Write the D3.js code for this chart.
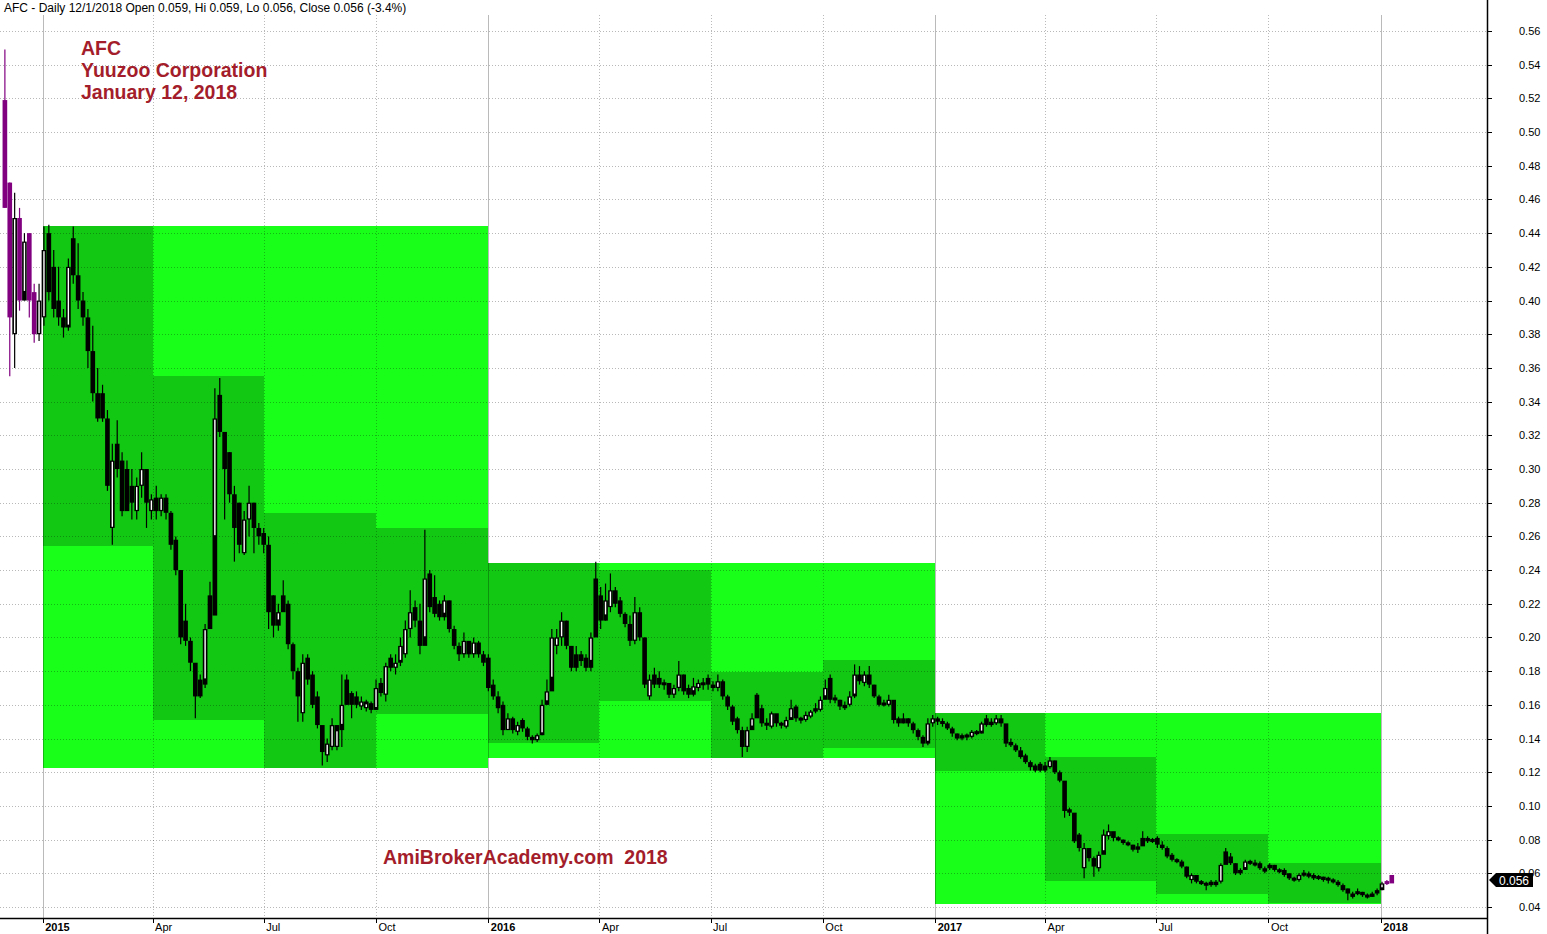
<!DOCTYPE html>
<html><head><meta charset="utf-8">
<script src="https://cdn.jsdelivr.net/npm/d3@7"></script>
<style>html,body{margin:0;padding:0;background:#fff;overflow:hidden}</style>
</head><body>
<svg id="chart" width="1547" height="934"></svg>
<script>
// ---------------- DATA ----------------
const ticker = "AFC";
const company = "Yuuzoo Corporation";
const chartDate = "January 12, 2018";
const footer = "AmiBrokerAcademy.com  2018";
const headerText = "AFC - Daily 12/1/2018 Open 0.059, Hi 0.059, Lo 0.056, Close 0.056 (-3.4%)";

const startDate = "2014-12-01";   // first sample
const stepDays = 4;               // calendar days between samples

const opens = [
.519,.47,.38,.449,.405,.44,.405,.38,
.39,.44,.42,.40,.39,.385,.437,.415,.40,.39,.37,.345,
.345,.33,.265,.315,.305,.30,.29,.275,.29,.30,
.275,.283,.275,.28,.27,.258,.238,.21,.198,.18,
.175,.175,.225,.26,.344,.318,.31,.285,.28,.25,
.27,.28,.26,.262,.255,.225,.21,.225,.22,.195,
.18,.155,.188,.178,.165,.14,.13,.135,.135,.148,
.175,.167,.165,.159,.158,.161,.158,.173,.166,.188,
.182,.186,.19,.205,.218,.21,.20,.238,.224,.22,
.214,.22,.204,.195,.19,.195,.19,.196,.19,.188,
.172,.164,.16,.145,.151,.144,.151,.146,.141,.139,
.143,.162,.176,.195,.2,.205,.19,.188,.19,.188,
.186,.235,.225,.213,.218,.228,.222,.214,.207,.198,
.215,.198,.165,.178,.176,.172,.171,.166,.17,.176,
.17,.168,.17,.172,.176,.172,.17,.172,.165,.159,
.152,.145,.135,.147,.166,.158,.149,.147,.151,.149,
.147,.152,.159,.152,.151,.153,.158,.157,.165,.176,
.164,.162,.158,.16,.166,.178,.173,.178,.17,.164,
.161,.16,.158,.152,.151,.151,.149,.145,.141,.138,
.149,.151,.15,.149,.146,.142,.14,.142,.141,.144,
.144,.152,.148,.149,.152,.143,.138,.136,.133,.13,
.126,.124,.125,.122,.123,.126,.12,.112,.098,.094,
.083,.063,.072,.069,.063,.073,.082,.082,.081,.079,
.078,.076,.074,.079,.081,.08,.081,.077,.075,.071,
.068,.067,.063,.056,.057,.055,.054,.055,.053,.055,
.073,.07,.065,.06,.063,.067,.065,.066,.061,.063,
.064,.061,.062,.06,.057,.056,.059,.06,.059,.058,
.058,.057,.056,.055,.053,.051,.046,.048,.048,.047,
.046,.048,.051,.055,.059];

const highs = [
.549,.47,.464,.455,.44,.44,.41,.41,
.444,.445,.43,.42,.395,.425,.444,.434,.405,.395,.385,.36,
.35,.335,.315,.329,.31,.305,.30,.295,.31,.30,
.285,.29,.285,.285,.275,.26,.24,.22,.20,.18,
.178,.208,.233,.348,.354,.32,.31,.29,.28,.275,
.29,.28,.268,.265,.26,.225,.22,.234,.222,.197,
.182,.19,.19,.18,.168,.142,.14,.152,.148,.178,
.178,.168,.168,.165,.163,.162,.175,.176,.185,.19,
.19,.20,.21,.228,.222,.22,.264,.24,.237,.222,
.225,.222,.207,.197,.203,.197,.20,.198,.192,.19,
.175,.168,.162,.155,.153,.15,.152,.147,.142,.143,
.163,.175,.205,.205,.215,.21,.192,.195,.192,.19,
.203,.245,.23,.232,.238,.23,.224,.215,.213,.224,
.218,.20,.178,.182,.18,.175,.172,.172,.186,.178,
.172,.176,.175,.176,.178,.174,.178,.175,.166,.16,
.153,.147,.147,.155,.167,.16,.152,.156,.152,.15,
.153,.163,.16,.153,.156,.157,.161,.165,.175,.178,
.166,.163,.162,.168,.184,.183,.18,.183,.172,.166,
.163,.166,.16,.153,.155,.152,.15,.146,.142,.152,
.154,.153,.152,.15,.147,.143,.143,.143,.145,.145,
.15,.154,.152,.154,.154,.145,.14,.137,.135,.131,
.127,.125,.126,.126,.129,.127,.121,.113,.099,.095,
.084,.078,.074,.07,.073,.086,.089,.084,.082,.08,
.079,.077,.078,.085,.082,.081,.082,.079,.076,.072,
.069,.068,.064,.06,.058,.056,.055,.056,.056,.066,
.075,.072,.066,.063,.068,.068,.068,.067,.064,.066,
.065,.063,.063,.06,.058,.06,.062,.061,.06,.059,
.058,.058,.057,.056,.054,.051,.049,.051,.049,.048,
.049,.051,.055,.056,.059];

const lows = [
.455,.355,.36,.394,.40,.39,.375,.376,
.385,.40,.39,.385,.378,.382,.41,.395,.385,.36,.34,.328,
.328,.287,.255,.295,.272,.275,.27,.27,.283,.265,
.27,.27,.272,.27,.252,.237,.196,.195,.18,.152,
.164,.17,.208,.255,.319,.27,.28,.245,.25,.249,
.26,.25,.255,.25,.205,.20,.204,.217,.193,.175,
.15,.15,.172,.158,.146,.124,.126,.133,.133,.135,
.16,.152,.158,.157,.156,.155,.157,.165,.162,.18,
.178,.183,.188,.20,.206,.19,.198,.215,.212,.21,
.21,.203,.193,.186,.188,.188,.188,.188,.183,.168,
.163,.155,.142,.145,.143,.142,.144,.139,.137,.138,
.142,.16,.17,.19,.195,.193,.18,.18,.183,.18,
.18,.215,.205,.21,.215,.218,.212,.206,.195,.196,
.198,.17,.163,.17,.17,.169,.164,.164,.168,.166,
.164,.165,.168,.169,.169,.168,.168,.163,.157,.148,
.143,.129,.132,.145,.155,.147,.145,.146,.147,.146,
.146,.151,.15,.149,.15,.152,.155,.156,.164,.161,
.161,.157,.157,.159,.164,.172,.171,.17,.164,.159,
.159,.159,.149,.147,.149,.147,.143,.139,.135,.136,
.147,.148,.147,.145,.141,.139,.139,.139,.14,.142,
.143,.147,.147,.148,.147,.135,.135,.132,.128,.125,
.121,.12,.12,.12,.122,.119,.114,.093,.094,.078,
.073,.057,.067,.058,.061,.072,.08,.079,.079,.077,
.076,.073,.072,.078,.078,.078,.075,.074,.069,.067,
.066,.063,.057,.054,.054,.053,.05,.052,.052,.054,
.066,.065,.059,.059,.062,.065,.064,.062,.06,.062,
.061,.06,.058,.056,.055,.055,.058,.057,.056,.056,
.055,.054,.054,.052,.049,.044,.045,.047,.046,.045,
.046,.047,.05,.053,.056];

const closes = [
.455,.39,.449,.40,.435,.40,.38,.40,
.43,.405,.395,.39,.384,.42,.415,.40,.39,.37,.345,.33,
.33,.29,.305,.30,.275,.285,.28,.29,.30,.28,
.282,.275,.283,.274,.255,.24,.20,.198,.185,.165,
.172,.205,.213,.33,.322,.30,.285,.265,.255,.27,
.28,.265,.262,.255,.215,.207,.215,.22,.196,.18,
.165,.185,.175,.16,.148,.132,.137,.148,.145,.16,
.163,.16,.16,.162,.161,.157,.17,.167,.183,.182,
.185,.195,.205,.215,.21,.195,.235,.218,.214,.212,
.222,.205,.195,.19,.198,.19,.197,.19,.185,.17,
.165,.158,.145,.152,.145,.148,.146,.141,.139,.142,
.16,.168,.20,.20,.21,.195,.182,.19,.186,.182,
.20,.22,.21,.222,.228,.22,.214,.208,.198,.215,
.20,.172,.175,.172,.172,.173,.166,.17,.178,.168,
.166,.171,.173,.173,.172,.17,.174,.165,.159,.15,
.145,.135,.145,.152,.158,.149,.148,.155,.149,.148,
.151,.158,.152,.151,.154,.156,.157,.163,.17,.163,
.163,.159,.16,.165,.178,.174,.178,.172,.165,.16,
.16,.163,.151,.149,.152,.149,.145,.141,.137,.149,
.152,.15,.149,.146,.143,.14,.142,.141,.144,.143,
.149,.148,.15,.152,.149,.137,.136,.133,.129,.126,
.123,.121,.121,.124,.127,.12,.115,.097,.096,.079,
.075,.075,.069,.064,.071,.083,.085,.081,.08,.078,
.077,.074,.076,.081,.079,.08,.077,.075,.07,.068,
.067,.064,.058,.059,.055,.054,.053,.053,.055,.065,
.068,.066,.06,.062,.067,.066,.066,.063,.063,.065,
.062,.062,.059,.057,.056,.059,.06,.058,.057,.057,
.056,.056,.055,.053,.05,.048,.048,.049,.047,.046,
.048,.05,.054,.054,.056];

// yearly range boxes (light) and quarterly range boxes (dark)
const years = ["2015","2016","2017"];
const yearHigh = [0.444, 0.244, 0.155];
const yearLow  = [0.1225, 0.1285, 0.042];
const quarterStarts = ["2015-01-01","2015-04-01","2015-07-01","2015-10-01",
                       "2016-01-01","2016-04-01","2016-07-01","2016-10-01",
                       "2017-01-01","2017-04-01","2017-07-01","2017-10-01"];
const quarterHigh = [0.444,0.355,0.274,0.265, 0.244,0.240,0.1795,0.1867, 0.155,0.129,0.0834,0.0664];
const quarterLow  = [0.254,0.151,0.1225,0.1546, 0.1374,0.1623,0.1285,0.1344, 0.1208,0.0554,0.0477,0.0425];

const yTicks = [0.04,0.06,0.08,0.10,0.12,0.14,0.16,0.18,0.20,0.22,0.24,0.26,0.28,0.30,
                0.32,0.34,0.36,0.38,0.40,0.42,0.44,0.46,0.48,0.50,0.52,0.54,0.56];
const xTickDates  = ["2015-01-01","2015-04-01","2015-07-01","2015-10-01","2016-01-01","2016-04-01",
                     "2016-07-01","2016-10-01","2017-01-01","2017-04-01","2017-07-01","2017-10-01","2018-01-01"];
const xTickLabels = ["2015","Apr","Jul","Oct","2016","Apr","Jul","Oct","2017","Apr","Jul","Oct","2018"];

// ---------------- CHART ----------------
const parse = d3.timeParse("%Y-%m-%d");
const W = 1547, H = 934;
const plotRight = 1487, axisY = 918, plotTop = 15;
const FONT = "Arial, 'Liberation Sans', sans-serif";
const RED = "#a31d2b";
const LIGHT = "#19ff19", DARK = "#12c812";

const x = d3.scaleTime().domain([parse("2014-11-27"), parse("2018-03-29")]).range([0, plotRight]);
const y = d3.scaleLinear().domain([0.04, 0.56]).range([907, 31]);

const d0 = parse(startDate);
const bars = closes.map((c, i) => ({
  date: d3.timeDay.offset(d0, i * stepDays),
  o: opens[i], h: highs[i], l: lows[i], c: c,
  pc: i > 0 ? closes[i - 1] : opens[i]
}));

const svg = d3.select("#chart");
svg.append("rect").attr("width", W).attr("height", H).attr("fill", "#fff");

// boxes
const gBox = svg.append("g").attr("shape-rendering", "crispEdges");
gBox.selectAll("rect.yr").data(years).join("rect")
  .attr("x", d => x(parse(d + "-01-01")))
  .attr("width", d => x(parse((+d + 1) + "-01-01")) - x(parse(d + "-01-01")))
  .attr("y", (d, i) => y(yearHigh[i]))
  .attr("height", (d, i) => y(yearLow[i]) - y(yearHigh[i]))
  .attr("fill", LIGHT);
const qEnds = quarterStarts.slice(1).concat(["2018-01-01"]);
gBox.selectAll("rect.q").data(quarterStarts).join("rect")
  .attr("x", d => x(parse(d)))
  .attr("width", (d, i) => x(parse(qEnds[i])) - x(parse(d)))
  .attr("y", (d, i) => y(quarterHigh[i]))
  .attr("height", (d, i) => y(quarterLow[i]) - y(quarterHigh[i]))
  .attr("fill", DARK);

// grid
const gGrid = svg.append("g").attr("shape-rendering", "crispEdges");
gGrid.selectAll("line.h").data(yTicks).join("line")
  .attr("x1", 0).attr("x2", plotRight)
  .attr("y1", d => Math.round(y(d)) + 0.5).attr("y2", d => Math.round(y(d)) + 0.5)
  .attr("stroke", "rgba(0,0,0,0.28)").attr("stroke-dasharray", "1,2");
gGrid.selectAll("line.v").data(xTickDates).join("line")
  .attr("x1", d => Math.round(x(parse(d))) + 0.5).attr("x2", d => Math.round(x(parse(d))) + 0.5)
  .attr("y1", plotTop).attr("y2", axisY)
  .attr("stroke", "rgba(0,0,0,0.27)")
  .attr("stroke-dasharray", d => d.endsWith("-01-01") ? null : "1,2");

// candles
const step = x(d3.timeDay.offset(d0, stepDays)) - x(d0);
const bw = step * 0.95;
const isInner = d => d.date >= parse("2015-01-01") && d.date < parse("2018-01-01");
const col = d => isInner(d) ? "#000" : "#800080";
const up = d => d.c >= d.o;
const gC = svg.append("g");
// wicks
gC.selectAll("line.wick").data(bars).join("line")
  .attr("x1", d => x(d.date)).attr("x2", d => x(d.date))
  .attr("y1", d => y(d.h)).attr("y2", d => y(d.l))
  .attr("stroke", d => up(d) ? "#000" : col(d)).attr("stroke-width", 1.2);
// bodies (joined to the previous close so the series reads as one continuous trace)
const MINH = 3;
const topV = d => Math.max(d.o, d.c, d.pc);
const botV = d => Math.min(d.o, d.c, d.pc);
const bTop = d => { const h = y(botV(d)) - y(topV(d)); return h < MINH ? (y(topV(d)) + y(botV(d))) / 2 - MINH / 2 : y(topV(d)); };
const bH = d => Math.max(MINH, y(botV(d)) - y(topV(d)));
gC.selectAll("rect.body").data(bars).join("rect")
  .attr("x", d => x(d.date) - bw / 2)
  .attr("y", bTop)
  .attr("width", bw)
  .attr("height", bH)
  .attr("fill", d => up(d) ? "#000" : col(d));
// hollow centre of up candles
gC.selectAll("rect.hollow").data(bars.filter(d => up(d) && Math.abs(y(d.o) - y(d.c)) > 3.5)).join("rect")
  .attr("x", d => x(d.date) - 0.7)
  .attr("y", d => y(Math.max(d.o, d.c)) + 1.2)
  .attr("width", 1.4)
  .attr("height", d => Math.abs(y(d.o) - y(d.c)) - 2.4)
  .attr("fill", "#fff");

// texts
svg.append("text").attr("x", 4).attr("y", 12).attr("font-family", FONT).attr("font-size", 12)
  .attr("fill", "#000").text(headerText);
const tg = svg.append("g").attr("font-family", FONT).attr("font-size", 19.5).attr("font-weight", "bold").attr("fill", RED);
[ticker, company, chartDate].forEach((t, i) => tg.append("text").attr("x", 81).attr("y", 55 + i * 22).text(t));
tg.append("text").attr("x", 383).attr("y", 864).style("white-space", "pre").text(footer);

// axes
const gY = svg.append("g").attr("transform", `translate(${plotRight},0)`)
  .call(d3.axisRight(y).tickValues(yTicks).tickSize(5).tickPadding(27).tickFormat(d3.format(".2f")));
gY.select(".domain").remove();
gY.selectAll("text").attr("font-family", FONT).attr("font-size", 11).attr("fill", "#000");
gY.selectAll("line").attr("stroke", "#000").attr("shape-rendering", "crispEdges");

const gX = svg.append("g").attr("transform", `translate(0,${axisY})`)
  .call(d3.axisBottom(x).tickValues(xTickDates.map(parse)).tickSize(5).tickPadding(0)
        .tickFormat((d, i) => xTickLabels[i]));
gX.select(".domain").remove();
gX.selectAll("text").attr("text-anchor", "start").attr("x", 2)
  .attr("font-family", FONT).attr("font-size", 11).attr("fill", "#000")
  .attr("font-weight", (d, i) => /^\d{4}$/.test(xTickLabels[i]) ? "bold" : "normal");
gX.selectAll("line").attr("stroke", "#000").attr("shape-rendering", "crispEdges");

svg.append("line").attr("x1", 0).attr("x2", plotRight).attr("y1", axisY + 0.5).attr("y2", axisY + 0.5)
  .attr("stroke", "#000").attr("stroke-width", 1.5);
svg.append("line").attr("x1", plotRight + 0.5).attr("x2", plotRight + 0.5).attr("y1", 0).attr("y2", H)
  .attr("stroke", "#000").attr("stroke-width", 1.5);

// last price badge
const last = closes[closes.length - 1];
const yc = y(last);
svg.append("path")
  .attr("d", `M${plotRight + 2},${yc} L${plotRight + 9},${yc - 7} L${plotRight + 46},${yc - 7} L${plotRight + 46},${yc + 7} L${plotRight + 9},${yc + 7} Z`)
  .attr("fill", "#000");
svg.append("text").attr("x", plotRight + 27).attr("y", yc + 4.5).attr("text-anchor", "middle")
  .attr("font-family", FONT).attr("font-size", 12).attr("fill", "#fff").text(d3.format(".3f")(last));
</script>
</body></html>
